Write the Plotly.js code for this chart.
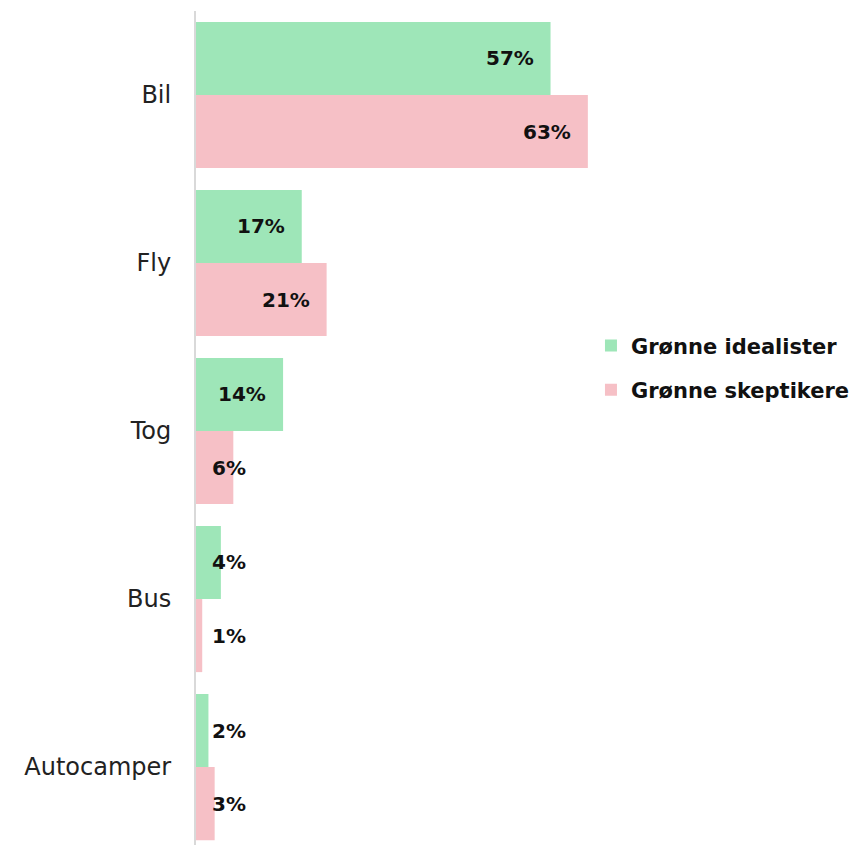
<!DOCTYPE html>
<html><head><meta charset="utf-8">
<script src="https://cdn.plot.ly/plotly-3.0.1.min.js"></script>
<style>body{margin:0;background:#fff}#c{width:866px;height:845px}</style>
</head><body><div id="c"></div>
<script>
const categories = ["Bil", "Fly", "Tog", "Bus", "Autocamper"];
const idealister = [57, 17, 14, 4, 2];
const skeptikere = [63, 21, 6, 1, 3];
const seriesNames = ["Grønne idealister", "Grønne skeptikere"];
const colors = ["#9ee6b8", "#f6c0c6"];

const FONT = "DejaVu Sans";
const bargap = 0.13;
const half = (1 - bargap) / 4;

const traces = [idealister, skeptikere].map((vals, k) => ({
  type: "bar", orientation: "h",
  y: categories, x: vals, name: seriesNames[k],
  marker: {color: colors[k]}, legendgroup: "g" + k,
  hoverinfo: "skip"
}));

const annotations = [];
[idealister, skeptikere].forEach((vals, k) => {
  vals.forEach((v, i) => {
    const big = v >= 10;
    annotations.push({
      xref: "x", yref: "y",
      x: big ? v : 0, y: i + (k === 0 ? -half : half),
      text: v + "%", showarrow: false,
      xanchor: big ? "right" : "left", xshift: big ? -15 : 14,
      font: {family: FONT, size: 20, color: "#111", weight: "bold"}
    });
  });
});

const layout = {
  width: 866, height: 845,
  margin: {l: 196, r: 48, t: 11, b: 0},
  paper_bgcolor: "#fff", plot_bgcolor: "#fff",
  barmode: "group", bargap: bargap,
  xaxis: {range: [0, 100], visible: false, fixedrange: true},
  yaxis: {
    type: "category", range: [4.464, -0.5],
    showline: true, linecolor: "#d9d9d9", linewidth: 2,
    showgrid: false, ticks: "", ticklabelstandoff: 18,
    tickfont: {family: FONT, size: 24, color: "#222"}
  },
  showlegend: true,
  legend: {
    x: 0.635, xanchor: "left", y: 0.623, yanchor: "top",
    traceorder: "grouped", tracegroupgap: 14,
    font: {family: FONT, size: 21, color: "#111", weight: "bold"},
    bgcolor: "rgba(0,0,0,0)"
  },
  annotations: annotations
};

Plotly.newPlot("c", traces, layout, {displayModeBar: false, staticPlot: true});
</script></body></html>
